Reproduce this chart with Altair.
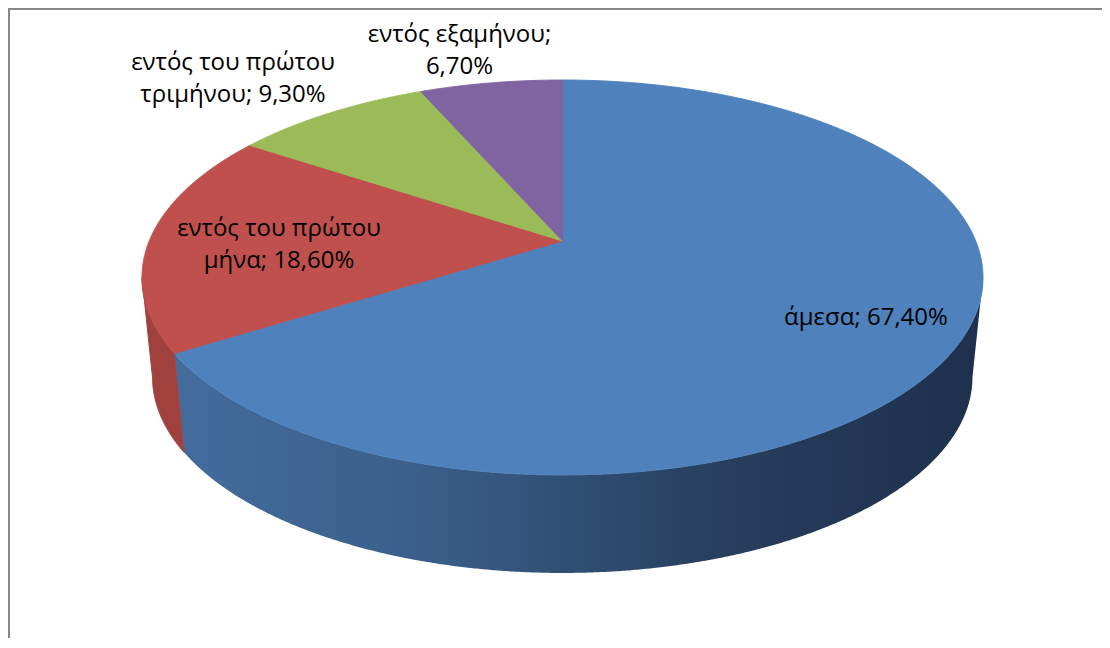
import textwrap
import numpy as np
import pandas as pd
import altair as alt

# ---------------- data ----------------
categories = ["άμεσα", "εντός του πρώτου μήνα", "εντός του πρώτου τριμήνου", "εντός εξαμήνου"]
values = [67.4, 18.6, 9.3, 6.7]

# ---------------- styles / layout ----------------
top_colors = ["#4f81bd", "#c0504d", "#9bbb59", "#8064a2"]
side_colors = ["#2c4a6e", "#a0413e", "#7e9a47", "#674f86"]
blue_side_stops = [(0.0, "#436c9d"), (0.3, "#3a5f8a"), (0.68, "#273e5d"), (1.0, "#1e304c")]

W, H = 1094, 630
PCX, PCY, PRX, PRY = 562.5, 277.5, 420.5, 197.5   # top ellipse in page px
TILT = -0.185                                       # perspective shift of the centre
BOT_KX, BOT_KY, BOT_DV = 0.975, 0.992, 0.504        # bottom rim relative to top
label_anchor_px = [(866, 325), (279, 236), (233, 70), (459.5, 42)]
LINE_PITCH = 32
FONT, FONT_SIZE = "Open Sans", 24


def px_to_x(px):
    return (px - PCX) / PRX


def py_to_v(py):
    return (py - PCY) / PRY


x_dom = [px_to_x(8), px_to_x(8 + W)]
v_dom = [py_to_v(8), py_to_v(8 + H)]

ch = 1 / np.sqrt(1 - TILT ** 2)
sh = TILT * ch


def rim(theta_deg, bottom=False):
    t = np.radians(theta_deg)
    s, v = np.sin(t), -np.cos(t)
    d = v * sh + ch
    X = s / d
    V = (v * ch + sh) / d
    if bottom:
        X = X * BOT_KX
        V = V * BOT_KY + BOT_DV
    return X, V


# silhouette angles (extreme right / left of the rim)
fine = np.linspace(0, 360, 14401)
fx, _ = rim(fine)
theta_right = fine[np.argmax(fx)]
theta_left = fine[np.argmin(fx)]

total = sum(values)
cum = np.concatenate([[0], np.cumsum(values)]) / total * 360.0

xs = alt.Scale(domain=x_dom, nice=False, zero=False)
ys = alt.Scale(domain=v_dom, nice=False, zero=False, reverse=True)


def poly_layer(df, fill, stroke, stroke_opacity=1.0):
    return alt.Chart(df).mark_line(
        fill=fill, stroke=stroke, strokeWidth=1, strokeOpacity=stroke_opacity,
        interpolate="linear-closed",
    ).encode(
        x=alt.X("X:Q", scale=xs, axis=None),
        y=alt.Y("V:Q", scale=ys, axis=None),
        order=alt.Order("i:Q"),
    )


def arc_angles(a1, a2):
    n = max(3, int((a2 - a1) / 0.25) + 1)
    return np.linspace(a1, a2, n)


side_layers = []
top_layers = []
for k in range(len(values)):
    a1, a2 = cum[k], cum[k + 1]
    # visible side wall (front part between the two silhouettes)
    s1, s2 = max(a1, theta_right), min(a2, theta_left)
    if s2 > s1:
        angs = arc_angles(s1, s2)
        tx, tv = rim(angs)
        bx, bv = rim(angs[::-1], bottom=True)
        side = pd.DataFrame({"X": np.concatenate([tx, bx]), "V": np.concatenate([tv, bv])})
        side["i"] = np.arange(len(side))
        if k == 0:
            grad = alt.LinearGradient(
                gradient="linear",
                stops=[alt.GradientStop(color=c, offset=o) for o, c in blue_side_stops],
                x1=0, x2=1, y1=0, y2=0,
            )
            side_layers.append(poly_layer(side, grad, "#1e304c", stroke_opacity=0))
        else:
            side_layers.append(poly_layer(side, side_colors[k], side_colors[k]))
    # top face
    angs = arc_angles(a1, a2)
    tx, tv = rim(angs)
    top = pd.DataFrame({"X": np.concatenate([[0.0], tx]), "V": np.concatenate([[TILT], tv])})
    top["i"] = np.arange(len(top))
    top_layers.append(poly_layer(top, top_colors[k], top_colors[k]))

# labels
rows = []
for k, (cat, val) in enumerate(zip(categories, values)):
    text = f"{cat}; {val:.2f}%".replace(".", ",")
    lines = textwrap.wrap(text, 16)
    ax, ay = label_anchor_px[k]
    for j, line in enumerate(lines):
        rows.append({"X": px_to_x(ax), "V": py_to_v(ay + j * LINE_PITCH), "text": line})
labels_df = pd.DataFrame(rows)
labels = alt.Chart(labels_df).mark_text(
    font=FONT, fontSize=FONT_SIZE, align="center", baseline="alphabetic", color="#000000"
).encode(
    x=alt.X("X:Q", scale=xs, axis=None),
    y=alt.Y("V:Q", scale=ys, axis=None),
    text="text:N",
)

frame_df = pd.DataFrame({"a": [0]})
frame_top = alt.Chart(frame_df).mark_rule(color="#878787", strokeWidth=2).encode(
    x=alt.value(0), x2=alt.value(W), y=alt.value(1)
)
frame_left = alt.Chart(frame_df).mark_rule(color="#878787", strokeWidth=2).encode(
    x=alt.value(1), y=alt.value(0), y2=alt.value(H)
)

chart = alt.layer(*side_layers, *top_layers, labels, frame_top, frame_left).properties(
    width=W, height=H, padding=0, autosize=alt.AutoSizeParams(type="none"), background="#ffffff"
).configure_view(strokeWidth=0)

chart.save("out.html", embed_options={"renderer": "svg", "actions": False})
